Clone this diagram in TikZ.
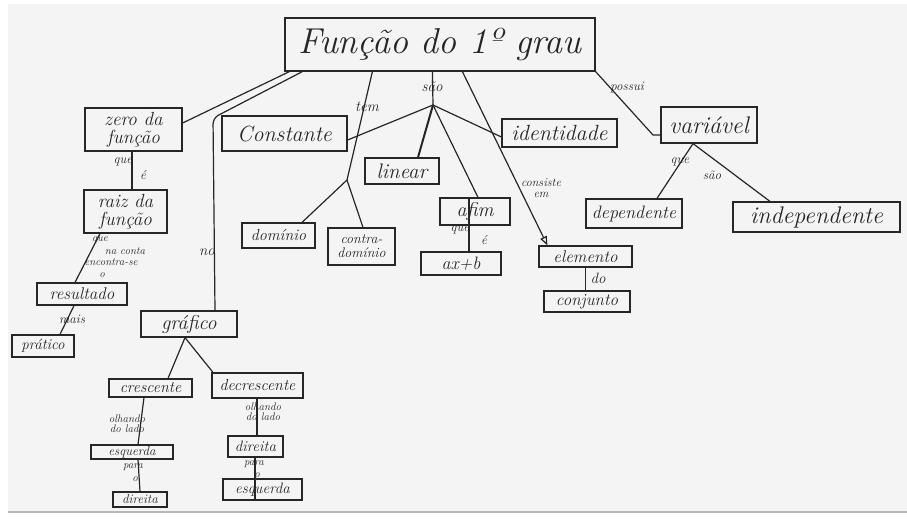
\documentclass[tikz,border=0pt]{standalone}
\usepackage{fontspec}
\usetikzlibrary{arrows.meta,calc}
\definecolor{paper}{RGB}{244,244,244}
\definecolor{ink}{RGB}{38,38,38}
\definecolor{edgegray}{RGB}{185,185,185}
\tikzset{
  box/.style={draw=ink, line width=1.2pt, inner sep=0pt, align=center, text=ink},
  ln/.style={draw=ink, line width=1.2pt},
  fz/.style 2 args={font=\fontsize{#1}{#2}\selectfont\itshape},
  lab/.style={inner sep=0pt, text=ink, align=center, font=\fontsize{12}{11}\selectfont\itshape},
}
\begin{document}
\begin{tikzpicture}[x=1pt,y=-1pt]
\useasboundingbox (0,0) rectangle (907,520);
\fill[white] (0,0) rectangle (907,520);
\fill[paper] (8,4) rectangle (907,511);
\draw[edgegray, line width=2pt] (8,512) -- (907,512);

% boxes
\node[box, minimum width=310pt, minimum height=53pt, fz={36}{38}] (title) at (440,44.5) {Função do 1º grau};
\node[box, minimum width=97pt, minimum height=43pt, fz={19}{18}] (zero) at (133.5,129.5) {zero da\\função};
\node[box, minimum width=83pt, minimum height=43pt, fz={19}{18}] (raiz) at (125.5,211.5) {raiz da\\função};
\node[box, minimum width=90pt, minimum height=22pt, fz={17}{17}] (resultado) at (82,294) {resultado};
\node[box, minimum width=62pt, minimum height=22pt, fz={15}{15}] (pratico) at (43,346) {prático};
\node[box, minimum width=125pt, minimum height=35pt, fz={22}{22}] (constante) at (284.5,133.5) {Constante};
\node[box, minimum width=74pt, minimum height=26pt, fz={21}{21}] (linear) at (402,171) {linear};
\node[box, minimum width=115pt, minimum height=28pt, fz={22}{22}] (identidade) at (559.5,133) {identidade};
\node[box, minimum width=70pt, minimum height=27pt, fz={20}{20}] (afim) at (475,211.5) {afim};
\node[box, minimum width=80pt, minimum height=23pt, fz={18}{18}] (axb) at (461,263.5) {ax+b};
\node[box, minimum width=93pt, minimum height=21pt, fz={17}{17}] (elemento) at (585.5,256.5) {elemento};
\node[box, minimum width=86pt, minimum height=21pt, fz={17}{17}] (conjunto) at (587,301.5) {conjunto};
\node[box, minimum width=73pt, minimum height=25pt, fz={16}{16}] (dominio) at (278.5,235.5) {domínio};
\node[box, minimum width=67pt, minimum height=37pt, fz={14}{14}] (contra) at (361.5,246.5) {contra-\\domínio};
\node[box, minimum width=96pt, minimum height=36pt, fz={24}{24}] (variavel) at (709,125) {variável};
\node[box, minimum width=96pt, minimum height=29pt, fz={18}{18}] (dependente) at (634,213.5) {dependente};
\node[box, minimum width=167pt, minimum height=30pt, fz={24}{24}] (independente) at (816.5,217) {independente};
\node[box, minimum width=96pt, minimum height=26pt, fz={20}{20}] (grafico) at (189,324) {gráfico};
\node[box, minimum width=83pt, minimum height=18pt, fz={16}{16}] (crescente) at (150.5,388) {crescente};
\node[box, minimum width=91pt, minimum height=25pt, fz={16}{16}] (decrescente) at (257.5,385.5) {decrescente};
\node[box, minimum width=82pt, minimum height=14pt, fz={13}{13}] (esquerda) at (132,452) {esquerda};
\node[box, minimum width=54pt, minimum height=15pt, fz={13}{13}] (direita) at (140,499.5) {direita};
\node[box, minimum width=55pt, minimum height=21pt, fz={15}{15}] (direitab) at (255.5,446.5) {direita};
\node[box, minimum width=79pt, minimum height=21pt, fz={15}{15}] (esquerdab) at (262.5,489.5) {esquerda};

% junction points
\coordinate (bendg) at (213,118);
\coordinate (jt) at (347,180);
\coordinate (js) at (433,105);
\coordinate (bp) at (653,135);
\coordinate (jv) at ([xshift=-16pt]variavel.south);

% connectors
\draw[ln] ([xshift=5pt]title.south west) -- ([yshift=6.5pt]zero.east);
\draw[ln, rounded corners=6pt] ([xshift=18pt]title.south west) -- (bendg) -- ([xshift=26pt]grafico.north);
\draw[ln] ([xshift=88pt]title.south west) -- (jt);
\draw[ln] (jt) -- ([xshift=23.5pt]dominio.north);
\draw[ln] (jt) -- ([xshift=1.5pt]contra.north);
\draw[ln] ([xshift=148pt]title.south west) -- (js);
\draw[ln] (js) -- ([yshift=-6.5pt]constante.east);
\draw[ln, line width=2pt] (js) -- ([xshift=16pt]linear.north);
\draw[ln] (js) -- ([xshift=3pt]afim.north);
\draw[ln] (js) -- ([yshift=-4pt]identidade.west);
\draw[ln] ([xshift=-6pt]afim.north) -- ([xshift=8pt]axb.north);
\draw[ln, -{Triangle[open, length=9pt, width=7pt]}] ([xshift=178pt]title.south west) -- ([xshift=9pt]elemento.north west);
\draw[ln] (elemento.south) -- ([xshift=-1.5pt]conjunto.north);
\draw[ln] (title.south east) -- (bp) -- ([yshift=-10pt]variavel.west);
\draw[ln] (jv) -- ([xshift=23pt]dependente.north);
\draw[ln] (jv) -- ([xshift=-46.5pt]independente.north);
\draw[ln] ([xshift=-1.5pt]zero.south) -- ([xshift=6.5pt]raiz.north);
\draw[ln] ([xshift=-25.5pt]raiz.south) -- ([xshift=-7pt]resultado.north);
\draw[ln] ([xshift=-8pt]resultado.south) -- ([xshift=17pt]pratico.north);
\draw[ln] ([xshift=-4pt]grafico.south) -- ([xshift=17.5pt]crescente.north);
\draw[ln] ([xshift=-4pt]grafico.south) -- ([xshift=-44.5pt]decrescente.north);
\draw[ln] ([xshift=-6.5pt]crescente.south) -- ([xshift=6pt]esquerda.north);
\draw[ln] ([xshift=6pt]esquerda.south) -- (direita.north);
\draw[ln] ([xshift=-0.5pt]decrescente.south) -- ([xshift=1.5pt]direitab.north);
\draw[ln] ([xshift=-0.5pt]direitab.south) -- ([xshift=-7.5pt]esquerdab.south);

% connector labels
\node[lab, font=\fontsize{15}{15}\selectfont\itshape] (lno) at (207,252) {no};
\node[lab, font=\fontsize{15}{15}\selectfont\itshape] (ltem) at (367,107) {tem};
\node[lab, font=\fontsize{15}{15}\selectfont\itshape] (lsao) at (432,87) {são};
\node[lab, font=\fontsize{13}{13}\selectfont\itshape] (lpossui) at (627,88) {possui};
\node[lab, font=\fontsize{12}{11}\selectfont\itshape] (lconsiste) at (541,188) {consiste\\em};
\node[lab, font=\fontsize{15}{15}\selectfont\itshape] (ldo) at (598,278) {do};
\node[lab, font=\fontsize{13}{13}\selectfont\itshape] (lque1) at (123,162) {que};
\node[lab, font=\fontsize{13}{13}\selectfont\itshape] (le1) at (143,175) {é};
\node[lab, font=\fontsize{11}{11}\selectfont\itshape] (lque2) at (100,240) {que};
\node[lab, font=\fontsize{11}{11}\selectfont\itshape] (lnaconta) at (125,251) {na conta};
\node[lab, font=\fontsize{11}{11}\selectfont\itshape] (lencontra) at (111,262) {encontra-se};
\node[lab, font=\fontsize{11}{11}\selectfont\itshape] (lo1) at (102,275) {o};
\node[lab, font=\fontsize{13}{13}\selectfont\itshape] (lmais) at (72,319) {mais};
\node[lab, font=\fontsize{13}{13}\selectfont\itshape] (lque3) at (460,230) {que};
\node[lab, font=\fontsize{13}{13}\selectfont\itshape] (le2) at (484,240) {é};
\node[lab, font=\fontsize{13}{13}\selectfont\itshape] (lque4) at (680,162) {que};
\node[lab, font=\fontsize{13}{13}\selectfont\itshape] (lsao2) at (712,175) {são};
\node[lab, font=\fontsize{11}{10}\selectfont\itshape] (lolh1) at (127,424) {olhando\\do lado};
\node[lab, font=\fontsize{11}{11}\selectfont\itshape] (lpara1) at (133,467) {para};
\node[lab, font=\fontsize{11}{11}\selectfont\itshape] (lo2) at (135,479) {o};
\node[lab, font=\fontsize{11}{10}\selectfont\itshape] (lolh2) at (263,412) {olhando\\do lado};
\node[lab, font=\fontsize{11}{11}\selectfont\itshape] (lpara2) at (254,464) {para};
\node[lab, font=\fontsize{11}{11}\selectfont\itshape] (lo3) at (257,475) {o};
\end{tikzpicture}
\end{document}
